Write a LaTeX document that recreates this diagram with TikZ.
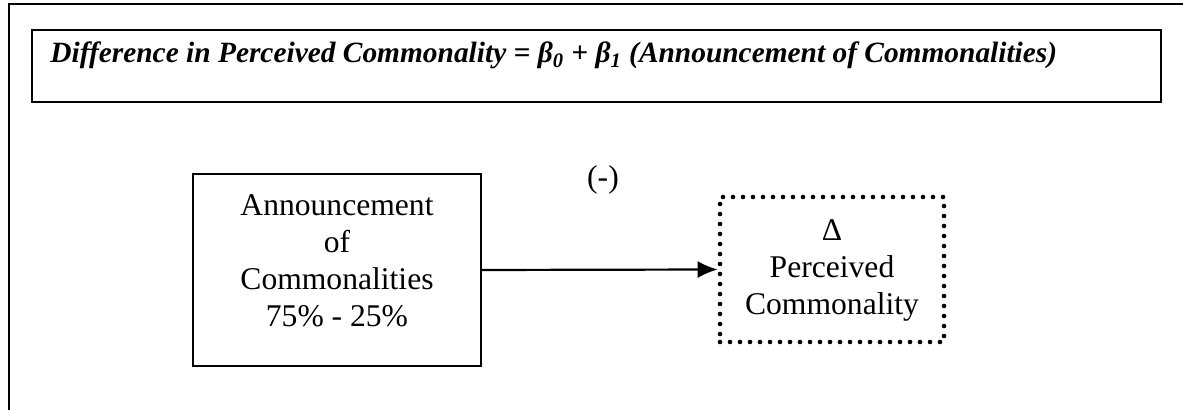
\documentclass[tikz,border=0pt]{standalone}
\usepackage{fontspec}
\setmainfont{Liberation Serif}
\usetikzlibrary{arrows.meta}
\begin{document}
\begin{tikzpicture}[x=0.5pt,y=-0.5pt,
  frameline/.style={line width=1.1pt},
  boxline/.style={draw,line width=1.1pt,inner sep=0pt},
  bodytext/.style={font=\fontsize{15.8pt}{18.5pt}\selectfont,align=center,inner sep=0pt},
  dotbox/.style={draw,line width=2.3pt,line cap=round,dash pattern=on 0pt off 5pt,inner sep=0pt},
  conn/.style={line width=1.1pt,-{Latex[length=10pt,width=8.5pt]}}]
\useasboundingbox (0,0) rectangle (1183,410);
% open outer frame
\coordinate (ftl) at (9,4);
\coordinate (ftr) at (1183,4);
\coordinate (fbl) at (9,410);
\draw[frameline] (ftr) -- (ftl) -- (fbl);
% title box
\node[boxline,minimum width=564.5pt,minimum height=36pt] (title) at (596.5,66) {};
\node[anchor=base west,inner sep=0pt,font=\fontsize{14.7pt}{17pt}\selectfont\bfseries\itshape] (titletext) at (50,63)
  {Difference in Perceived Commonality = β\textsubscript{\itshape 0} + β\textsubscript{\itshape 1} (Announcement of Commonalities)};
% left box
\node[boxline,minimum width=144pt,minimum height=96pt] (ann) at (337,270) {};
\node[bodytext] (anntext) at (337,261) {Announcement\\of\\Commonalities\\75\% - 25\%};
% dotted box
\node[dotbox,minimum width=112pt,minimum height=72.5pt] (pc) at (832,269.5) {};
\node[bodytext] (pctext) at (832,270) {Δ\\Perceived\\Commonality};
% connector
\draw[conn] (ann.east) -- (pc.west);
\node[font=\fontsize{15.8pt}{18.5pt}\selectfont,inner sep=0pt] (sign) at (603,180) {(-)};
\end{tikzpicture}
\end{document}
